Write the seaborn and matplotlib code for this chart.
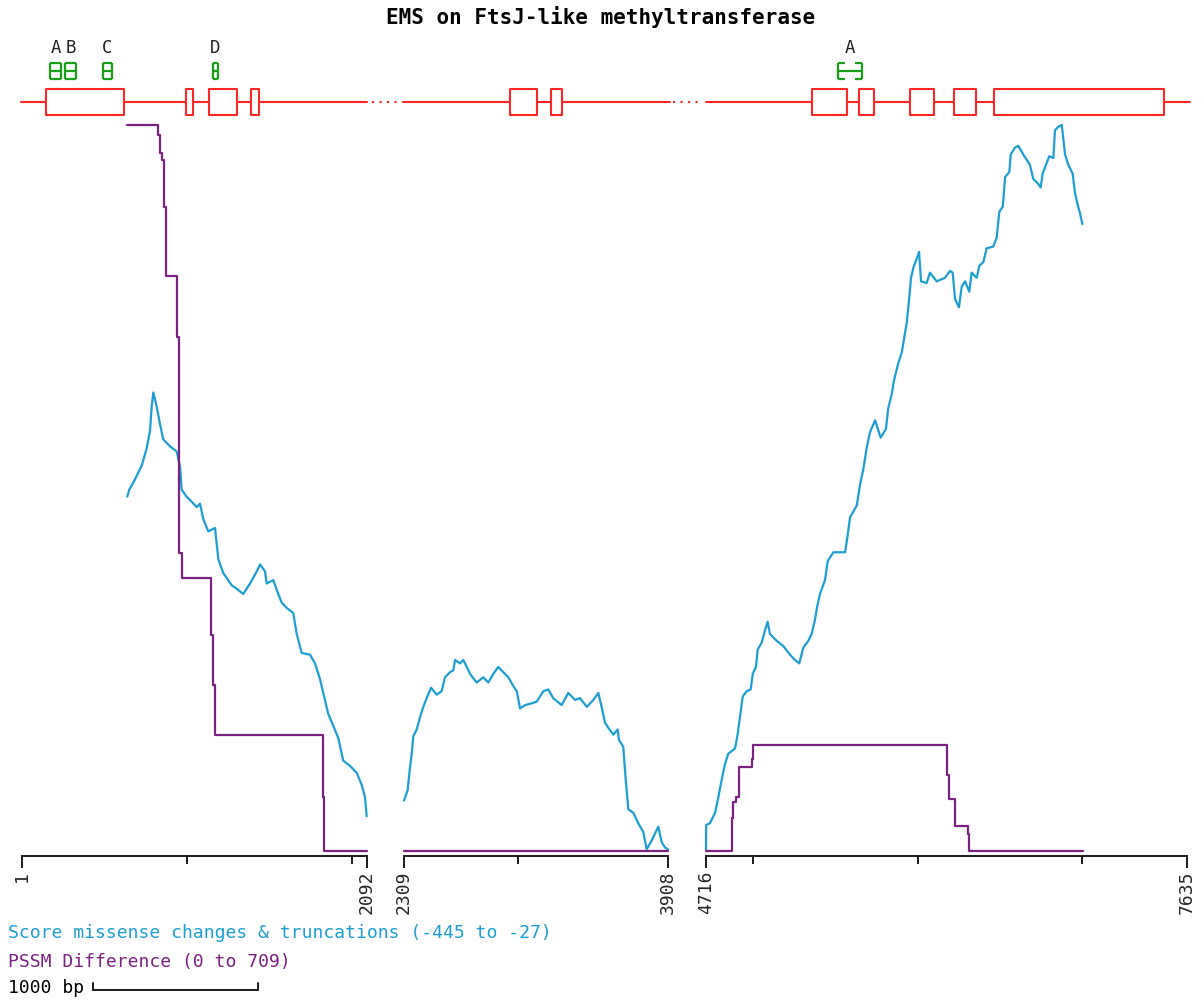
import matplotlib
matplotlib.use("Agg")
import matplotlib.pyplot as plt
import matplotlib.transforms as mtransforms
import seaborn as sns

# Gene segments shown (bp); the gaps between them are skipped
SEG_STARTS = [1, 2309, 4716]
SEG_ENDS = [2092, 3908, 7635]
SEG_MINOR_TICKS = [[1000, 2000], [3000], [5000, 6000, 7000]]
GENE_LINE_STARTS = [-5, 2303, 4716]
GENE_LINE_ENDS = [2092, 3920, 7653]

# Exons (bp)
EXON_STARTS = [146, 995, 1134, 1389, 2951, 3199, 5359, 5644, 5954, 6221, 6463]
EXON_ENDS = [619, 1037, 1304, 1437, 3115, 3266, 5572, 5735, 6099, 6354, 7495]

# Motif blocks above the gene
MOTIF_LABELS = ["A", "B", "C", "D", "A"]
MOTIF_STARTS = [171, 262, 492, 1159, 5517]
MOTIF_ENDS = [237, 328, 546, 1189, 5663]

# Score missense changes & truncations, per segment
SCORE_BP_1 = [639, 651, 686, 727, 757, 777, 787, 797, 817, 837,
              857, 898, 939, 959, 969, 999, 1030, 1060, 1080, 1100,
              1130, 1171, 1191, 1221, 1272, 1302, 1342, 1383, 1424, 1444,
              1474, 1484, 1524, 1554, 1575, 1605, 1645, 1666, 1696, 1747,
              1777, 1807, 1837, 1857, 1888, 1918, 1948, 1989, 2030, 2060,
              2080, 2090]
SCORE_1 = [-241, -237, -231, -223, -213, -203, -189, -181, -189, -199,
           -208, -212, -215, -224, -237, -241, -244, -247, -245, -254,
           -261, -259, -277, -285, -292, -294, -297, -291, -284, -280,
           -284, -291, -289, -297, -302, -305, -308, -320, -331, -332,
           -337, -346, -358, -366, -373, -380, -393, -396, -400, -407,
           -414, -425]

SCORE_BP_2 = [2309, 2331, 2345, 2356, 2365, 2386, 2406, 2426, 2446, 2473,
              2507, 2537, 2557, 2588, 2608, 2618, 2648, 2668, 2689, 2709,
              2749, 2789, 2820, 2850, 2880, 2910, 2941, 2971, 2992, 3012,
              3042, 3082, 3113, 3153, 3183, 3213, 3264, 3304, 3345, 3375,
              3416, 3456, 3486, 3506, 3526, 3546, 3577, 3603, 3611, 3637,
              3652, 3668, 3698, 3728, 3758, 3779, 3809, 3849, 3870, 3890,
              3908]
SCORE_2 = [-416, -410, -397, -389, -379, -375, -368, -362, -357, -351,
           -355, -353, -345, -342, -341, -335, -337, -335, -339, -343,
           -348, -345, -348, -343, -339, -342, -345, -350, -353, -363,
           -361, -360, -359, -353, -352, -357, -361, -354, -358, -357,
           -362, -358, -354, -362, -371, -374, -378, -375, -381, -385,
           -404, -421, -423, -429, -434, -444, -439, -431, -440, -443,
           -444]

SCORE_BP_3 = [4716, 4717, 4740, 4771, 4791, 4811, 4831, 4851, 4892, 4906,
              4922, 4939, 4963, 4987, 5000, 5019, 5030, 5054, 5074, 5090,
              5104, 5145, 5185, 5226, 5256, 5282, 5306, 5337, 5357, 5377,
              5391, 5408, 5438, 5455, 5489, 5560, 5573, 5590, 5631, 5651,
              5671, 5691, 5711, 5742, 5776, 5808, 5822, 5843, 5857, 5883,
              5904, 5918, 5934, 5950, 5960, 5978, 5995, 6009, 6021, 6055,
              6075, 6116, 6166, 6197, 6213, 6227, 6251, 6268, 6288, 6314,
              6328, 6359, 6375, 6399, 6419, 6459, 6480, 6496, 6517, 6531,
              6557, 6565, 6591, 6611, 6642, 6682, 6702, 6733, 6747, 6759,
              6779, 6799, 6824, 6834, 6854, 6875, 6895, 6915, 6941, 6955,
              6969, 6986, 7000]
SCORE_3 = [-444, -430, -429, -423, -414, -404, -395, -389, -386, -379,
           -368, -356, -353, -352, -343, -339, -329, -325, -318, -313,
           -320, -324, -327, -332, -335, -337, -328, -324, -320, -312,
           -304, -297, -289, -278, -273, -273, -265, -253, -246, -234,
           -225, -213, -204, -197, -207, -202, -190, -182, -174, -164,
           -158, -150, -141, -126, -115, -108, -104, -100, -117, -118,
           -112, -117, -115, -111, -112, -127, -132, -120, -117, -123,
           -112, -115, -108, -106, -98, -97, -92, -77, -74, -57,
           -54, -44, -40, -39, -44, -50, -58, -61, -63, -55,
           -50, -45, -46, -30, -28, -27, -44, -50, -55, -66,
           -72, -78, -84]

# PSSM difference (step function), per segment
PSSM_BP_1 = [639, 827, 838, 852, 862, 874, 942, 953, 969, 1147, 1157, 1171, 1827, 1833, 2092]
PSSM_1 = [709, 699, 682, 675, 629, 562, 502, 291, 267, 211, 162, 113, 53, 0, 0]
PSSM_BP_2 = [2309, 3908]
PSSM_2 = [0, 0]
PSSM_BP_3 = [4716, 4872, 4882, 4898, 4918, 4993, 5003, 6177, 6193, 6227, 6304, 6314, 7004]
PSSM_3 = [0, 32, 48, 53, 82, 90, 104, 74, 51, 24, 17, 0, 0]

SCORE_RANGE = (-445, -27)
PSSM_RANGE = (0, 709)
SCALE_BAR_START = 431
SCALE_BAR_BP = 1000

# Styling
CYAN = "#1b9fd2"
PURPLE = "#7b2182"
RED = "#ff2626"
GREEN = "#16a016"
AXIS_COLOR = "#1a1a1a"
MONO = "DejaVu Sans Mono"

W, H = 1201, 1000
SEG_PX_LEFT = [22, 404, 706]
SEG_PX_RIGHT = [367, 668, 1187]

sns.set_style("white")
plt.rcParams["font.family"] = MONO


def px_rect(left, top, right, bottom):
    """Axes rectangle from pixel edges (top-left origin)."""
    return [left / W, 1 - bottom / H, (right - left) / W, (bottom - top) / H]


def draw_motif(ax, a, b, cap=45):
    """Green bracket box with a midline."""
    kw = dict(color=GREEN, lw=1.6, solid_capstyle="butt", clip_on=False)
    lo, hi, mid = 23, 39, 31
    ax.plot([a, a], [lo, hi], **kw)
    ax.plot([b, b], [lo, hi], **kw)
    ax.plot([a, b], [mid, mid], **kw)
    c = (a + b) / 2
    for y in (lo, hi):
        ax.plot([a, min(a + cap, c)], [y, y], **kw)
        ax.plot([max(b - cap, c), b], [y, y], **kw)


fig = plt.figure(figsize=(W / 100, H / 100), dpi=100)

score_bp = [SCORE_BP_1, SCORE_BP_2, SCORE_BP_3]
scores = [SCORE_1, SCORE_2, SCORE_3]
pssm_bp = [PSSM_BP_1, PSSM_BP_2, PSSM_BP_3]
pssms = [PSSM_1, PSSM_2, PSSM_3]

data_axes = []
for i in range(3):
    s, e = SEG_STARTS[i], SEG_ENDS[i]
    left, right = SEG_PX_LEFT[i], SEG_PX_RIGHT[i]

    # Data tracks
    ax = fig.add_axes(px_rect(left, 125, right, 851))
    ax2 = ax.twinx()
    sns.lineplot(x=score_bp[i], y=scores[i], ax=ax, color=CYAN, linewidth=1.6,
                 estimator=None, sort=False, clip_on=False)
    sns.lineplot(x=pssm_bp[i], y=pssms[i], ax=ax2, color=PURPLE, linewidth=1.6,
                 drawstyle="steps-post", estimator=None, sort=False, clip_on=False)
    ax.set_xlim(s, e)
    ax.set_ylim(*SCORE_RANGE)
    ax2.set_ylim(*PSSM_RANGE)
    ax2.axis("off")
    ax.patch.set_visible(False)
    ax.set_yticks([])
    ax.set_ylabel("")
    for side in ["left", "right", "top"]:
        ax.spines[side].set_visible(False)

    # Ruler
    ax.spines["bottom"].set_position(("outward", 3.6))
    ax.spines["bottom"].set_bounds(s, e)
    ax.spines["bottom"].set_linewidth(1.4)
    ax.spines["bottom"].set_color(AXIS_COLOR)
    ax.set_xticks([s, e])
    ax.set_xticklabels([str(s), str(e)], rotation=90)
    ax.set_xticks(SEG_MINOR_TICKS[i], minor=True)
    ax.tick_params(axis="x", which="major", length=8.6, width=1.4, pad=2,
                   labelsize=13, color=AXIS_COLOR, direction="out", bottom=True)
    ax.tick_params(axis="x", which="minor", length=5.8, width=1.4,
                   color=AXIS_COLOR, direction="out", bottom=True)
    data_axes.append(ax)

    # Gene model
    gx = fig.add_axes(px_rect(left, 37, right, 122))
    gx.set_xlim(s, e)
    gx.set_ylim(-20, 65)
    gx.axis("off")
    gx.plot([GENE_LINE_STARTS[i], GENE_LINE_ENDS[i]], [0, 0], color=RED, lw=1.5,
            clip_on=False, zorder=1)
    if i < 2:
        gx.plot([e + 30, e + 190], [0, 0], color=RED, lw=1.5,
                linestyle=(0, (1, 2.6)), clip_on=False)
    bars = [(a, b - a) for a, b in zip(EXON_STARTS, EXON_ENDS) if s <= a <= e]
    gx.broken_barh(bars, (-13, 26), facecolors="white", edgecolors=RED,
                   linewidth=1.5, zorder=3)
    for lab, a, b in zip(MOTIF_LABELS, MOTIF_STARTS, MOTIF_ENDS):
        if s <= a <= e:
            draw_motif(gx, a, b)
            gx.text((a + b) / 2, 54, lab, ha="center", va="center",
                    fontsize=12.5, color="#222222")

# Title
fig.text(601 / W, 1 - 17 / H, "EMS on FtsJ-like methyltransferase", ha="center",
         va="center", fontsize=15, fontweight="bold", color="black")

# Legend lines
fig.text(8 / W, 1 - 933 / H, "Score missense changes & truncations (-445 to -27)",
         color=CYAN, fontsize=13, va="center")
fig.text(8 / W, 1 - 962 / H, "PSSM Difference (0 to 709)",
         color=PURPLE, fontsize=13, va="center")
fig.text(8 / W, 1 - 988 / H, "1000 bp", color="black", fontsize=13, va="center")

# Scale bar drawn on the first segment's bp scale
ax0 = data_axes[0]
trans = mtransforms.blended_transform_factory(ax0.transData, fig.transFigure)
x0, x1 = SCALE_BAR_START, SCALE_BAR_START + SCALE_BAR_BP
y_bar, y_cap = 1 - 990 / H, 1 - 983 / H
ax0.plot([x0, x1], [y_bar, y_bar], color=AXIS_COLOR, lw=1.4, transform=trans, clip_on=False)
ax0.plot([x0, x0], [y_bar, y_cap], color=AXIS_COLOR, lw=1.4, transform=trans, clip_on=False)
ax0.plot([x1, x1], [y_bar, y_cap], color=AXIS_COLOR, lw=1.4, transform=trans, clip_on=False)

fig.savefig("out.png", dpi=100)
